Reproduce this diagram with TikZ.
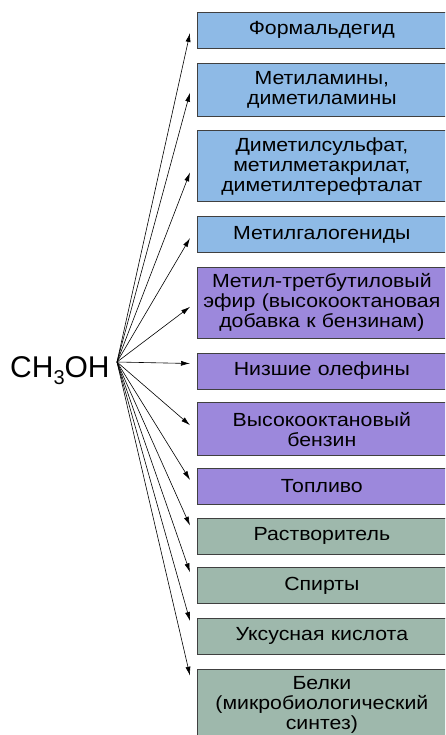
\documentclass[tikz,border=0pt]{standalone}
\usepackage{fontspec}
\setmainfont{Liberation Sans}[FakeStretch=1.12]
\newfontfamily\formulafont{Liberation Sans}
\usetikzlibrary{arrows.meta, positioning}

\begin{document}
\begin{tikzpicture}[x=1pt, y=1pt,
    % product box styles
    prod/.style={rectangle, draw=black!75, line width=0.7pt, anchor=north west,
        minimum width=249pt, text width=244pt, align=center, inner sep=1pt,
        font=\fontsize{19}{20}\selectfont},
    one/.style={prod, minimum height=36pt},
    two/.style={prod, minimum height=53pt},
    three/.style={prod, minimum height=71pt},
    bluebox/.style={fill=chemblue},
    violetbox/.style={fill=chemviolet},
    greybox/.style={fill=chemgrey},
    % arrow style
    fan/.style={-{Latex[length=9pt, width=5pt]}, line width=0.6pt}
]
    \definecolor{chemblue}{RGB}{142,186,230}
    \definecolor{chemviolet}{RGB}{156,136,220}
    \definecolor{chemgrey}{RGB}{158,184,172}
    \useasboundingbox (0,0) rectangle (445,-735);
    \clip (0,0) rectangle (445,-735);

    % methanol
    \node[font=\formulafont\fontsize{30}{30}\selectfont, anchor=base west, inner sep=0pt] (meoh) at (10,-377)
        {CH\raisebox{-7pt}{\fontsize{20}{20}\selectfont 3}OH};
    \coordinate (src) at (117,-362);

    % products - first box at coordinates, the rest stacked below
    \node[one, bluebox] (b1) at (197,-12) {Формальдегид};
    \node[two, bluebox, below=14pt of b1.south west, anchor=north west] (b2) {Метиламины,\\диметиламины};
    \node[three, bluebox, below=14pt of b2.south west, anchor=north west] (b3) {Диметилсульфат,\\метилметакрилат,\\диметилтерефталат};
    \node[one, bluebox, below=14pt of b3.south west, anchor=north west] (b4) {Метилгалогениды};
    \node[three, violetbox, below=14pt of b4.south west, anchor=north west] (b5) {Метил-третбутиловый\\эфир (высокооктановая\\добавка к бензинам)};
    \node[one, violetbox, below=14pt of b5.south west, anchor=north west] (b6) {Низшие олефины};
    \node[two, violetbox, below=13pt of b6.south west, anchor=north west] (b7) {Высокооктановый\\бензин};
    \node[one, violetbox, below=12pt of b7.south west, anchor=north west] (b8) {Топливо};
    \node[one, greybox, below=13pt of b8.south west, anchor=north west] (b9) {Растворитель};
    \node[one, greybox, below=13pt of b9.south west, anchor=north west] (b10) {Спирты};
    \node[one, greybox, below=14pt of b10.south west, anchor=north west] (b11) {Уксусная кислота};
    \node[three, greybox, below=14pt of b11.south west, anchor=north west] (b12) {Белки\\(микробиологический\\синтез)};

    % fan of arrows from methanol, tips a little left of each box
    \foreach \i/\d in {1/21, 2/30, 3/42, 4/22, 5/40, 6/11, 7/23, 8/12, 9/8, 10/5, 11/3, 12/7}
        \draw[fan] (src) -- ([xshift=-7pt, yshift=-\d pt]b\i.north west);
\end{tikzpicture}
\end{document}
